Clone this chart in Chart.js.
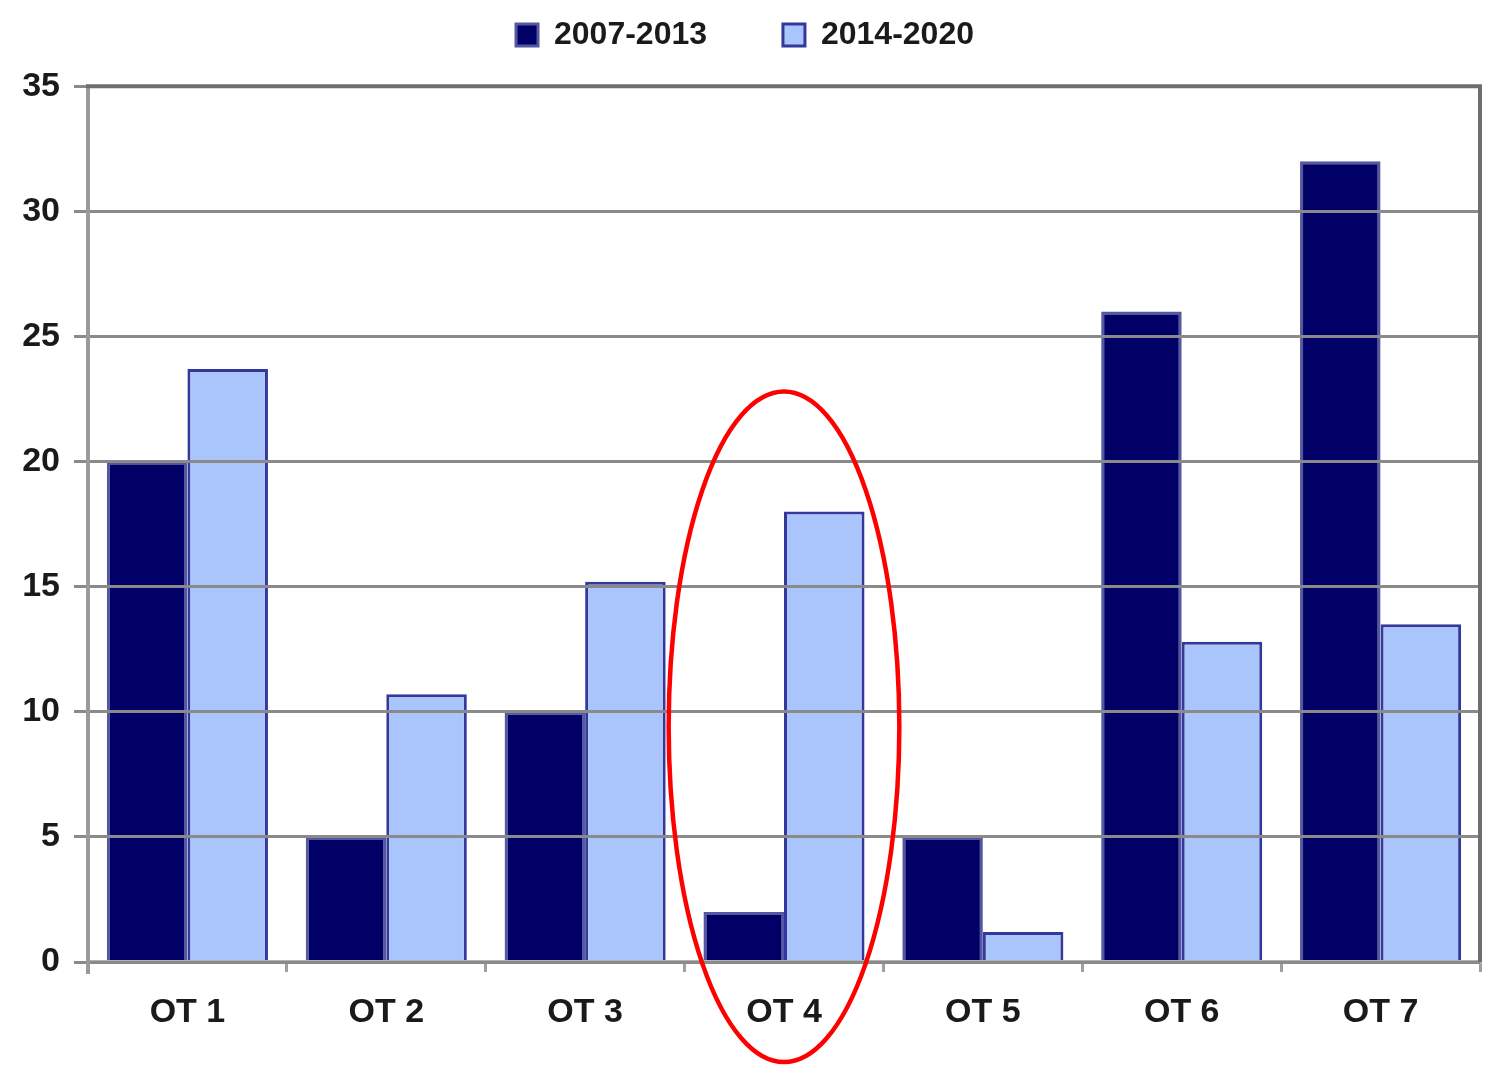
<!DOCTYPE html>
<html>
<head>
<meta charset="utf-8">
<script src="https://cdn.jsdelivr.net/npm/chart.js@4/dist/chart.umd.min.js"></script>
<style>
  html, body { margin: 0; padding: 0; background: #ffffff; }
  #wrap { width: 1490px; height: 1067px; position: relative; }
</style>
</head>
<body>
<div id="wrap"><canvas id="c" width="1490" height="1067"></canvas></div>
<script>
const categories = ["OT 1", "OT 2", "OT 3", "OT 4", "OT 5", "OT 6", "OT 7"];
const series2007_2013 = [20, 5, 10, 2, 5, 26, 32];
const series2014_2020 = [23.7, 10.7, 15.2, 18, 1.2, 12.8, 13.5];
const seriesLabels = ["2007-2013", "2014-2020"];
const yTicks = [0, 5, 10, 15, 20, 25, 30, 35];
const highlightCategory = "OT 4";

const FONT = "'Liberation Sans', Arial, sans-serif";
const LEGEND_GAP = "\u2002\u2002\u2002 ";

const frame = {
  id: 'frame',
  afterDraw(chart) {
    const { ctx, chartArea: a } = chart;
    ctx.save();
    ctx.strokeStyle = '#9a9a9a';
    ctx.lineWidth = 4;
    ctx.beginPath();
    ctx.moveTo(a.left, a.top);
    ctx.lineTo(a.left, a.bottom + 12);
    ctx.stroke();
    ctx.strokeStyle = '#6e6e6e';
    ctx.lineWidth = 4;
    ctx.beginPath();
    ctx.moveTo(a.left - 2, a.top);
    ctx.lineTo(a.right, a.top);
    ctx.lineTo(a.right, a.bottom);
    ctx.stroke();
    // ellipse highlight
    const xs = chart.scales.x, ys = chart.scales.y;
    const idx = categories.indexOf(highlightCategory);
    const cx = xs.getPixelForValue(idx);
    const catW = xs.getPixelForValue(1) - xs.getPixelForValue(0);
    const cy = ys.getPixelForValue(9.4);
    const ry = ys.getPixelForValue(0) - ys.getPixelForValue(13.4);
    ctx.strokeStyle = '#ff0000';
    ctx.lineWidth = 4.5;
    ctx.beginPath();
    ctx.ellipse(cx, cy, catW * 0.58, ry, 0, 0, Math.PI * 2);
    ctx.stroke();
    ctx.restore();
  }
};

new Chart(document.getElementById('c'), {
  type: 'bar',
  data: {
    labels: categories,
    datasets: [
      {
        label: seriesLabels[0],
        data: series2007_2013,
        backgroundColor: '#000066',
        borderColor: '#55579f',
        borderWidth: 3,
        categoryPercentage: 0.81,
        barPercentage: 1.0
      },
      {
        label: seriesLabels[1],
        data: series2014_2020,
        backgroundColor: '#a9c5fb',
        borderColor: '#34389a',
        borderWidth: 3,
        categoryPercentage: 0.81,
        barPercentage: 1.0
      }
    ]
  },
  plugins: [frame],
  options: {
    responsive: false,
    animation: false,
    devicePixelRatio: 1,
    layout: { padding: { top: 0, right: 10, left: 10, bottom: 0 } },
    plugins: {
      tooltip: { enabled: false },
      title: {
        display: true,
        text: '',
        weight: 500,
        font: { size: 1 },
        padding: { top: 0, bottom: 24 }
      },
      legend: {
        display: true,
        position: 'top',
        weight: 3000,
        labels: {
          color: '#1a1a1a',
          font: { family: FONT, size: 32, weight: 'bold' },
          boxWidth: 22,
          boxHeight: 22,
          padding: 19,
          generateLabels(chart) {
            const items = Chart.defaults.plugins.legend.labels.generateLabels(chart);
            items.forEach((it, i) => { if (i < items.length - 1) it.text = it.text + LEGEND_GAP; });
            return items;
          }
        }
      }
    },
    scales: {
      x: {
        grid: {
          display: true,
          drawOnChartArea: false,
          drawTicks: true,
          tickLength: 10,
          color: '#a0a0a0',
          lineWidth: 3,
          offset: true,
          z: 1
        },
        border: { display: true, color: '#b4b4ac', width: 4, z: 1 },
        ticks: {
          color: '#1a1a1a',
          font: { family: FONT, size: 34, weight: 'bold' },
          padding: 20
        },
        afterFit(scale) { scale.height = 105; }
      },
      y: {
        min: 0,
        max: 35,
        afterBuildTicks(scale) { scale.ticks = yTicks.map(v => ({ value: v })); },
        grid: {
          display: true,
          drawOnChartArea: true,
          drawTicks: true,
          tickLength: 14,
          color: '#8a8a8a',
          lineWidth: 3,
          z: 1
        },
        border: { display: false },
        ticks: {
          color: '#1a1a1a',
          font: { family: FONT, size: 34, weight: 'bold' },
          padding: 14
        },
        afterFit(scale) { scale.width = 78; }
      }
    }
  }
});
</script>
</body>
</html>
